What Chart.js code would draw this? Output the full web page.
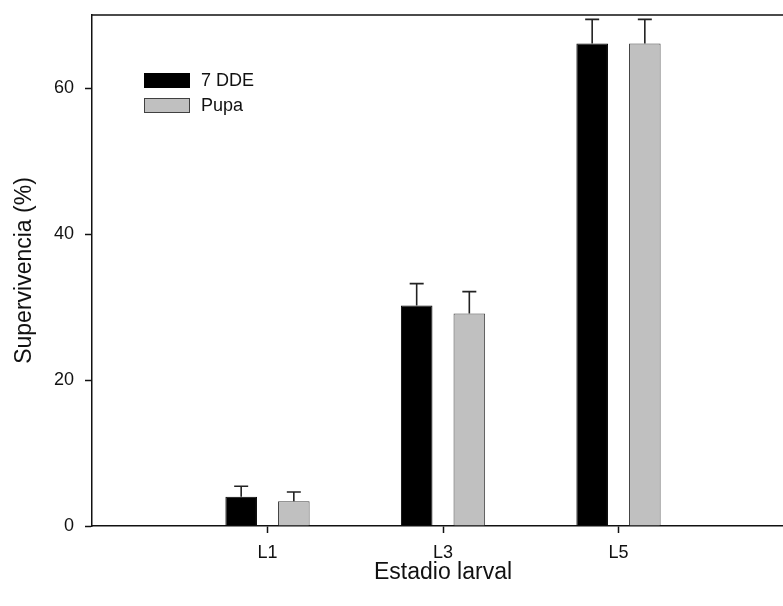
<!DOCTYPE html>
<html>
<head>
<meta charset="utf-8">
<script src="https://cdn.jsdelivr.net/npm/chart.js@4/dist/chart.umd.min.js"></script>
<style>
  html, body { margin: 0; padding: 0; background: #fff; overflow: hidden; }
  #wrap { width: 783px; height: 606px; overflow: hidden; }
  canvas { display: block; }
</style>
</head>
<body>
<div id="wrap"><canvas id="c" width="800" height="606"></canvas></div>
<script>
// Larval stage groups (blank slots pad the axis on both sides)
const categories = ['', 'L1', 'L3', 'L5', ''];

// Survival (%) measured 7 days after emergence and at pupa
const dde7 = [null, 4.0, 30.2, 66.1, null];
const pupa = [null, 3.4, 29.1, 66.1, null];

// Standard errors (upper whiskers only)
const dde7Err = [null, 1.45, 3.0, 3.3, null];
const pupaErr = [null, 1.25, 3.0, 3.3, null];

const yTicks = [0, 20, 40, 60];

const FONT = 'Liberation Sans, Arial, sans-serif';
const AXIS = '#111';

// Upper error whiskers drawn through the value scale
const errorBars = {
  id: 'errorBars',
  afterDatasetsDraw(chart) {
    const { ctx } = chart;
    const y = chart.scales.y;
    chart.data.datasets.forEach((ds, i) => {
      const meta = chart.getDatasetMeta(i);
      meta.data.forEach((bar, j) => {
        const v = ds.data[j], e = ds.errors[j];
        if (v == null || e == null) return;
        const x = bar.x;
        const top = y.getPixelForValue(v + e);
        const base = y.getPixelForValue(v);
        ctx.save();
        ctx.strokeStyle = '#222';
        ctx.lineWidth = 1.6;
        ctx.beginPath();
        ctx.moveTo(x, base);
        ctx.lineTo(x, top);
        ctx.moveTo(x - 7, top);
        ctx.lineTo(x + 7, top);
        ctx.stroke();
        ctx.restore();
      });
    });
  }
};

// Frame line along the top of the plot
const frame = {
  id: 'frame',
  afterDraw(chart) {
    const { ctx, chartArea: a } = chart;
    ctx.save();
    ctx.strokeStyle = AXIS;
    ctx.lineWidth = 1.5;
    ctx.beginPath();
    ctx.moveTo(a.left, a.top);
    ctx.lineTo(a.right, a.top);
    ctx.lineTo(a.right, a.bottom);
    ctx.stroke();
    ctx.restore();
  }
};

// Legend box inside the plot, upper left
const insetLegend = {
  id: 'insetLegend',
  afterDraw(chart) {
    const { ctx, chartArea: a } = chart;
    const x0 = a.left + 52, y0 = a.top + 58;
    ctx.save();
    ctx.font = '18px ' + FONT;
    ctx.textBaseline = 'middle';
    chart.data.datasets.forEach((ds, i) => {
      const yy = y0 + i * 25;
      ctx.fillStyle = ds.backgroundColor;
      ctx.fillRect(x0, yy, 46, 15);
      ctx.strokeStyle = ds.borderColor;
      ctx.lineWidth = 1;
      ctx.strokeRect(x0 + 0.5, yy + 0.5, 45, 14);
      ctx.fillStyle = '#111';
      ctx.fillText(ds.label, x0 + 57, yy + 8);
    });
    ctx.restore();
  }
};

new Chart(document.getElementById('c'), {
  type: 'bar',
  data: {
    labels: categories,
    datasets: [
      { label: '7 DDE', data: dde7, errors: dde7Err, backgroundColor: '#000000', borderColor: '#000000', borderWidth: 1 },
      { label: 'Pupa', data: pupa, errors: pupaErr, backgroundColor: '#c0c0c0', borderColor: '#404040', borderWidth: 1 }
    ]
  },
  options: {
    responsive: false,
    animation: false,
    events: [],
    layout: { padding: { top: 15, right: 6, left: 0, bottom: 0 } },
    datasets: { bar: { categoryPercentage: 0.6, barPercentage: 0.6 } },
    plugins: { legend: { display: false }, tooltip: { enabled: false } },
    scales: {
      x: {
        offset: false,
        afterFit(s) { s.height = 80; s.paddingLeft = 0; s.paddingRight = 0; },
        grid: {
          offset: false,
          drawOnChartArea: false,
          tickLength: 7,
          tickWidth: 1.5,
          color: (c) => (categories[c.index] ? AXIS : 'rgba(0,0,0,0)')
        },
        border: { display: true, color: AXIS, width: 1.5 },
        ticks: { color: '#111', font: { family: FONT, size: 18 }, padding: 9, maxRotation: 0, autoSkip: false },
        title: { display: true, text: 'Estadio larval', color: '#111', font: { family: FONT, size: 23 }, padding: { top: 0, bottom: 20 } }
      },
      y: {
        min: 0,
        max: 70,
        afterFit(s) { s.width = 92; s.paddingTop = 0; s.paddingBottom = 0; },
        afterBuildTicks(s) { s.ticks = yTicks.map(v => ({ value: v })); },
        grid: { drawOnChartArea: false, tickLength: 7, tickWidth: 1.5, color: AXIS },
        border: { display: true, color: AXIS, width: 1.5 },
        ticks: { color: '#111', font: { family: FONT, size: 18 }, padding: 11 },
        title: { display: true, text: 'Supervivencia (%)', color: '#111', font: { family: FONT, size: 23 }, padding: { top: 11, bottom: 0 } }
      }
    }
  },
  plugins: [errorBars, frame, insetLegend]
});
</script>
</body>
</html>
